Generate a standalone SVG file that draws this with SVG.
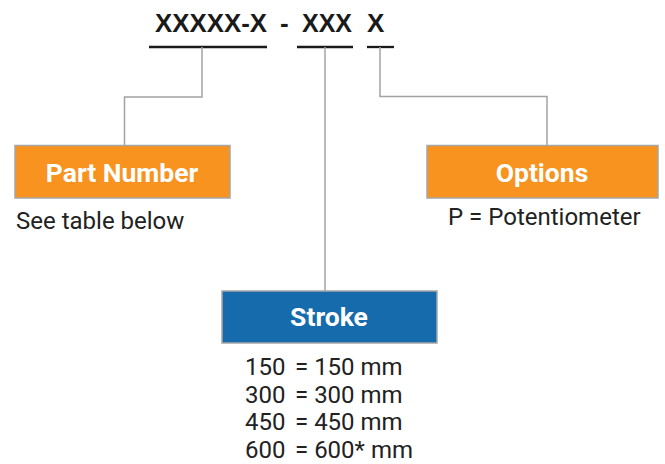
<svg xmlns="http://www.w3.org/2000/svg" width="665" height="464" viewBox="0 0 665 464">
<style>
.code{font-family:"Liberation Sans",Arial,sans-serif;font-weight:bold;font-size:26px;fill:#1a1a1a}
.ul{stroke:#1a1a1a;stroke-width:2.3}
.conn{fill:none;stroke:#a3a3a3;stroke-width:1.5}
.box{stroke:#a6a6a6;stroke-width:1.5}
.orange{fill:#f7931e}
.blue{fill:#156bab}
.title{font-family:Roboto,"Noto Sans",sans-serif;font-weight:bold;font-size:26.5px;fill:#fff;text-anchor:middle}
.desc{font-family:Roboto,"Noto Sans",sans-serif;font-size:24px;fill:#222}
</style>
<rect width="665" height="464" fill="#fff"/>
<g id="code">
<text class="code" x="155" y="32" textLength="112" lengthAdjust="spacingAndGlyphs">XXXXX-X</text>
<text class="code" x="280" y="32">-</text>
<text class="code" x="302" y="32" textLength="50" lengthAdjust="spacingAndGlyphs">XXX</text>
<text class="code" x="367" y="32">X</text>
<line class="ul" x1="149" y1="47" x2="267" y2="47"/>
<line class="ul" x1="297" y1="47" x2="353" y2="47"/>
<line class="ul" x1="367" y1="47" x2="394" y2="47"/>
</g>
<g id="connectors">
<polyline class="conn" points="202,47 202,97 124.5,97 124.5,145"/>
<polyline class="conn" points="325,47 325,291"/>
<polyline class="conn" points="380,47 380,96.5 547,96.5 547,145"/>
</g>
<g id="part-number">
<rect class="box orange" x="15" y="145.5" width="215" height="52.5"/>
<text class="title" x="122" y="181.5">Part Number</text>
<text class="desc" x="16" y="229">See table below</text>
</g>
<g id="options">
<rect class="box orange" x="427" y="145.5" width="231" height="52.5"/>
<text class="title" x="542" y="181.5">Options</text>
<text class="desc" x="448" y="225">P = Potentiometer</text>
</g>
<g id="stroke">
<rect class="box blue" x="222" y="291" width="215" height="52"/>
<text class="title" x="329" y="326">Stroke</text>
<text class="desc" x="245" y="375">150</text><text class="desc" x="295" y="375">= 150 mm</text>
<text class="desc" x="245" y="402.5">300</text><text class="desc" x="295" y="402.5">= 300 mm</text>
<text class="desc" x="245" y="430">450</text><text class="desc" x="295" y="430">= 450 mm</text>
<text class="desc" x="245" y="457.5">600</text><text class="desc" x="295" y="457.5">= 600* mm</text>
</g>
</svg>
